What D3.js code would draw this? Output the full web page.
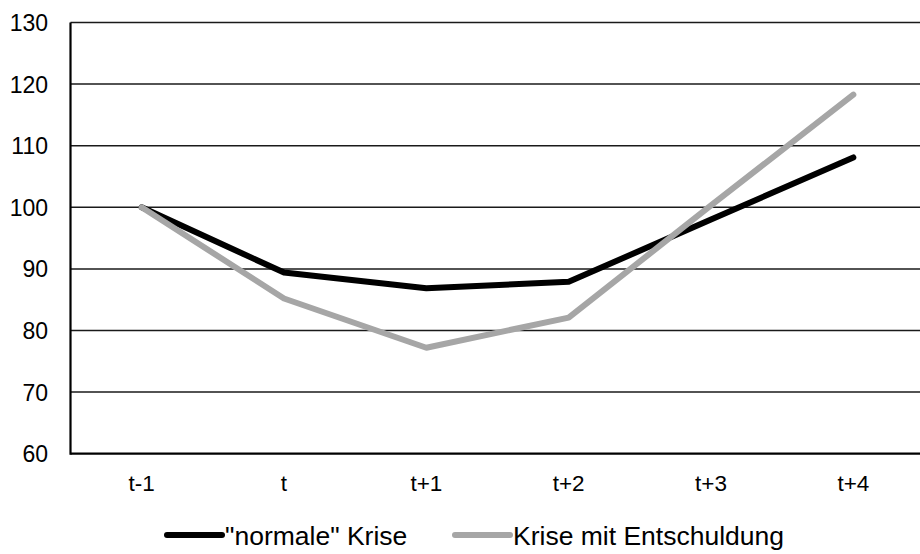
<!DOCTYPE html>
<html>
<head>
<meta charset="utf-8">
<script src="https://cdn.jsdelivr.net/npm/d3@7"></script>
<style>
  html, body { margin: 0; padding: 0; background: #fff; }
  svg { display: block; font-family: Arial, "Liberation Sans", sans-serif; }
</style>
</head>
<body>
<svg id="chart" width="920" height="554"></svg>
<script>
// Periods around the crisis year t
const periods = ["t-1", "t", "t+1", "t+2", "t+3", "t+4"];
// Index values (t-1 = 100)
const normalCrisis = [100, 89.4, 86.85, 87.9, 98.0, 108.1];
const debtReliefCrisis = [100, 85.2, 77.2, 82.1, 100.3, 118.3];
const seriesNames = ["\"normale\" Krise", "Krise mit Entschuldung"];
const seriesColors = ["#000000", "#a6a6a6"];
const yTicks = [60, 70, 80, 90, 100, 110, 120, 130];

const svg = d3.select("#chart");

const x = d3.scalePoint().domain(periods).range([70.5, 924.5]).padding(0.5);
const y = d3.scaleLinear().domain([60, 130]).range([453.7, 22.5]);
const left = 70.5;

// Horizontal gridlines
svg.append("g")
  .selectAll("line")
  .data(yTicks.filter(d => d > 60))
  .join("line")
  .attr("x1", left).attr("x2", 920)
  .attr("y1", d => y(d)).attr("y2", d => y(d))
  .attr("stroke", "#1a1a1a").attr("stroke-width", 1.5);

// Y axis labels
svg.append("g")
  .selectAll("text")
  .data(yTicks)
  .join("text")
  .attr("x", 48).attr("y", d => y(d) + 8.5)
  .attr("text-anchor", "end")
  .attr("font-size", 23)
  .attr("fill", "#000")
  .text(d => d);

// X axis labels
svg.append("g")
  .selectAll("text")
  .data(periods)
  .join("text")
  .attr("x", d => x(d)).attr("y", 491)
  .attr("text-anchor", "middle")
  .attr("font-size", 22.5)
  .attr("fill", "#000")
  .text(d => d);

// Axis lines (left and bottom)
svg.append("line")
  .attr("x1", left).attr("x2", 920).attr("y1", y(60)).attr("y2", y(60))
  .attr("stroke", "#000").attr("stroke-width", 2.2);
svg.append("line")
  .attr("x1", left).attr("x2", left).attr("y1", y(130)).attr("y2", y(60) + 1.1)
  .attr("stroke", "#000").attr("stroke-width", 2.2);

// Series lines
const line = d3.line().x((d, i) => x(periods[i])).y(d => y(d));
[normalCrisis, debtReliefCrisis].forEach((vals, k) => {
  svg.append("path")
    .datum(vals)
    .attr("d", line)
    .attr("fill", "none")
    .attr("stroke", seriesColors[k])
    .attr("stroke-width", 6)
    .attr("stroke-linejoin", "round")
    .attr("stroke-linecap", "round");
});

// Legend
const legendItems = [
  { name: seriesNames[0], color: seriesColors[0], x0: 167, x1: 222, tx: 225 },
  { name: seriesNames[1], color: seriesColors[1], x0: 455, x1: 510, tx: 513 }
];
const lg = svg.append("g");
legendItems.forEach(it => {
  lg.append("line")
    .attr("x1", it.x0).attr("x2", it.x1).attr("y1", 535).attr("y2", 535)
    .attr("stroke", it.color).attr("stroke-width", 6).attr("stroke-linecap", "round");
  lg.append("text")
    .attr("x", it.tx).attr("y", 545)
    .attr("font-size", 26.5)
    .attr("fill", "#000")
    .text(it.name);
});
</script>
</body>
</html>
